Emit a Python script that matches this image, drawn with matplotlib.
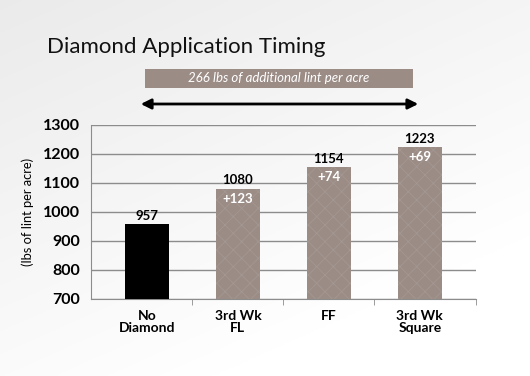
import numpy as np
import matplotlib
matplotlib.use("Agg")
import matplotlib.pyplot as plt
from matplotlib.patches import Rectangle

categories = ["No\nDiamond", "3rd Wk\nFL", "FF", "3rd Wk\nSquare"]
values = [957, 1080, 1154, 1223]
gains = ["", "+123", "+74", "+69"]
yticks = [700, 800, 900, 1000, 1100, 1200, 1300]
title = "Diamond Application Timing"
banner = "266 lbs of additional lint per acre"
ylabel = "(lbs of lint per acre)"

plt.rcParams['font.family'] = ['Lato', 'DejaVu Sans']
plt.rcParams['hatch.linewidth'] = 0.6

fig = plt.figure(figsize=(5.3, 3.76), dpi=100)

# background gradient
bg = fig.add_axes([0, 0, 1, 1], zorder=-10)
yy, xx = np.mgrid[0:1:200j, 0:1:200j]
g = 0.92 + 0.08 * np.clip((xx * 0.5 + yy * 0.8), 0, 1)
bg.imshow(np.dstack([g, g, g]), extent=[0, 1, 0, 1], aspect='auto', origin='upper')
bg.axis('off')

ax = fig.add_axes([0.1717, 0.2048, 0.726, 0.4628])
ax.set_facecolor('none')
x = np.arange(len(values))
colors = ['black'] + ['#9b8c86'] * 3
bars = ax.bar(x, [v - 700 for v in values], bottom=700, width=0.48, color=colors, zorder=3)
for b in bars[1:]:
    b.set_hatch('xx')
    b.set_edgecolor('#a49690')
    b.set_linewidth(0)
ax.set_xlim(-0.615, 3.615)
ax.set_ylim(700, 1300)
ax.set_yticks(yticks)
ax.set_yticklabels([str(t) for t in yticks], fontsize=11.5, fontweight='bold')
ax.yaxis.grid(True, color='#8c8c8c', linewidth=1.0, zorder=0)
ax.set_axisbelow(True)
for s in ['top', 'right']:
    ax.spines[s].set_visible(False)
ax.spines['left'].set_color('#8c8c8c')
ax.spines['bottom'].set_color('#8c8c8c')
ax.tick_params(axis='y', length=0, pad=8)
ax.set_xticks(x)
ax.set_xticklabels(categories, fontsize=10, fontweight='bold', linespacing=0.95)
ax.tick_params(axis='x', length=0, pad=8)
ax.set_xticks([0.5, 1.5, 2.5, 3.615], minor=True)
ax.tick_params(axis='x', which='minor', length=4, color='#8c8c8c', direction='out')

for xi, v, gtxt in zip(x, values, gains):
    ax.text(xi, v + 8, str(v), ha='center', va='bottom', fontsize=9.5, fontweight='bold', color='black')
    if gtxt:
        ax.text(xi, v - 14, gtxt, ha='center', va='top', fontsize=9.5, fontweight='bold', color='white')

ax.set_ylabel(ylabel, fontsize=9.3, labelpad=6)

fig.text(47 / 530, 1 - 47 / 376, title, fontsize=16, ha='left', va='center', color='#111111')

fig.patches.append(Rectangle((145 / 530, 1 - 88 / 376), (413 - 145) / 530, 19 / 376,
                             transform=fig.transFigure, facecolor='#9b8c86', edgecolor='none'))
fig.text(279 / 530, 1 - 78.5 / 376, banner, fontsize=9.5, style='italic', color='white',
         ha='center', va='center')
fig.add_artist(matplotlib.patches.FancyArrowPatch((138 / 530, 1 - 104 / 376), (421 / 530, 1 - 104 / 376),
                                                  transform=fig.transFigure, arrowstyle='<|-|>',
                                                  mutation_scale=15, color='black', linewidth=2))

fig.savefig("out.png", dpi=100)
